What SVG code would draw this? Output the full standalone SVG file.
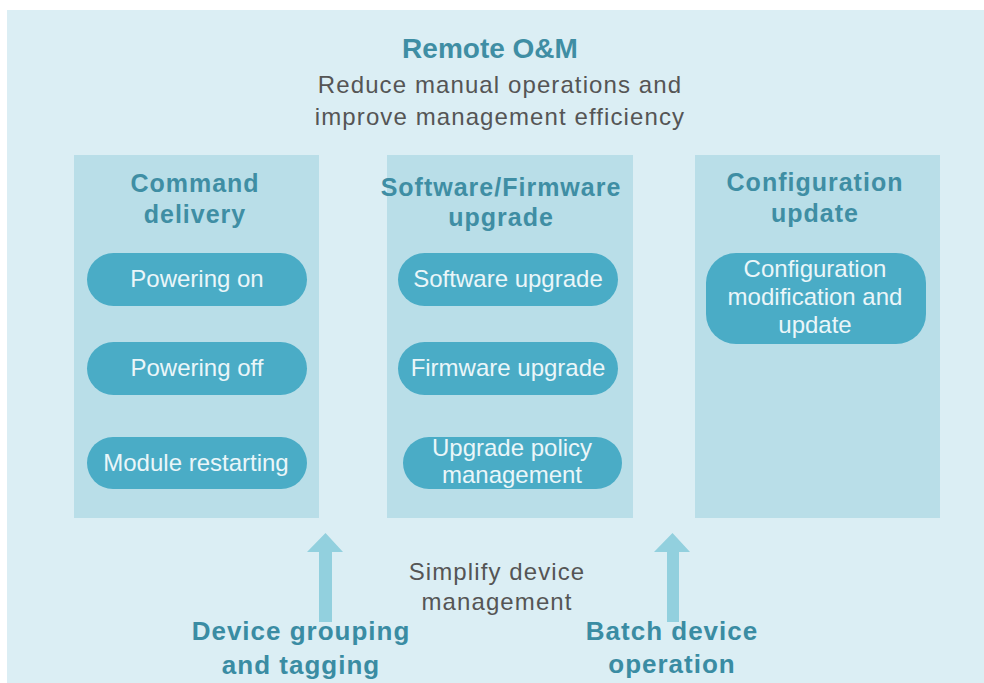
<svg xmlns="http://www.w3.org/2000/svg" width="984" height="683" viewBox="0 0 984 683">
<style>
.col{fill:#b9dee8}
.pill{fill:#4aacc6}
.ptxt{font-family:"Liberation Sans",Arial,sans-serif;font-size:24px;fill:#eaf6f9;text-anchor:middle}
.ttl{font-family:"Liberation Sans",Arial,sans-serif;font-size:25px;font-weight:bold;fill:#3f8ea4;text-anchor:middle;letter-spacing:1px}
.gray{font-family:"Liberation Sans",Arial,sans-serif;font-size:24px;fill:#555;text-anchor:middle;letter-spacing:1.1px}
.lbl{font-family:"Liberation Sans",Arial,sans-serif;font-size:26px;font-weight:bold;fill:#3a8ca3;text-anchor:middle;letter-spacing:1px}
.arrow{fill:#92d0de}
</style>
<rect x="0" y="0" width="984" height="683" fill="#ffffff"/>
<rect id="panel" x="7" y="10" width="977" height="673" fill="#dbeef4"/>
<g id="header">
<text x="490" y="58" class="ttl" style="font-size:28px;letter-spacing:0">Remote O&amp;M</text>
<text x="500" y="93" class="gray">Reduce manual operations and</text>
<text x="500" y="125" class="gray">improve management efficiency</text>
</g>
<g id="col-command">
<rect class="col" x="74" y="155" width="245" height="363"/>
<text x="195" y="192" class="ttl">Command</text>
<text x="195" y="223" class="ttl">delivery</text>
<g id="powering-on"><rect class="pill" x="87" y="253" width="220" height="53" rx="26.5"/><text x="197" y="287" class="ptxt">Powering on</text></g>
<g id="powering-off"><rect class="pill" x="87" y="342" width="220" height="53" rx="26.5"/><text x="197" y="376" class="ptxt">Powering off</text></g>
<g id="module-restarting"><rect class="pill" x="87" y="437" width="220" height="52" rx="26"/><text x="196" y="471" class="ptxt">Module restarting</text></g>
</g>
<g id="col-upgrade">
<rect class="col" x="387" y="155" width="246" height="363"/>
<text x="501" y="196" class="ttl">Software/Firmware</text>
<text x="501" y="226" class="ttl">upgrade</text>
<g id="software-upgrade"><rect class="pill" x="398" y="253" width="220" height="53" rx="26.5"/><text x="508" y="287" class="ptxt">Software upgrade</text></g>
<g id="firmware-upgrade"><rect class="pill" x="398" y="342" width="220" height="53" rx="26.5"/><text x="508" y="376" class="ptxt">Firmware upgrade</text></g>
<g id="upgrade-policy"><rect class="pill" x="403" y="437" width="219" height="52" rx="26"/><text x="512" y="456" class="ptxt">Upgrade policy</text><text x="512" y="483" class="ptxt">management</text></g>
</g>
<g id="col-config">
<rect class="col" x="695" y="155" width="245" height="363"/>
<text x="815" y="191" class="ttl">Configuration</text>
<text x="815" y="222" class="ttl">update</text>
<g id="config-modification"><rect class="pill" x="706" y="253" width="220" height="91" rx="30"/><text x="815" y="277" class="ptxt">Configuration</text><text x="815" y="305" class="ptxt">modification and</text><text x="815" y="333" class="ptxt">update</text></g>
</g>
<g id="connectors">
<path class="arrow" d="M319,622 L319,552 L307,552 L325.5,533 L343,552 L332,552 L332,622 Z"/>
<path class="arrow" d="M667,622 L667,552 L654,552 L672.5,533 L690,552 L679,552 L679,622 Z"/>
</g>
<g id="bottom">
<text x="497" y="580" class="gray">Simplify device</text>
<text x="497" y="610" class="gray">management</text>
<text x="301" y="640" class="lbl">Device grouping</text>
<text x="301" y="674" class="lbl">and tagging</text>
<text x="672" y="640" class="lbl">Batch device</text>
<text x="672" y="673" class="lbl">operation</text>
</g>
</svg>
